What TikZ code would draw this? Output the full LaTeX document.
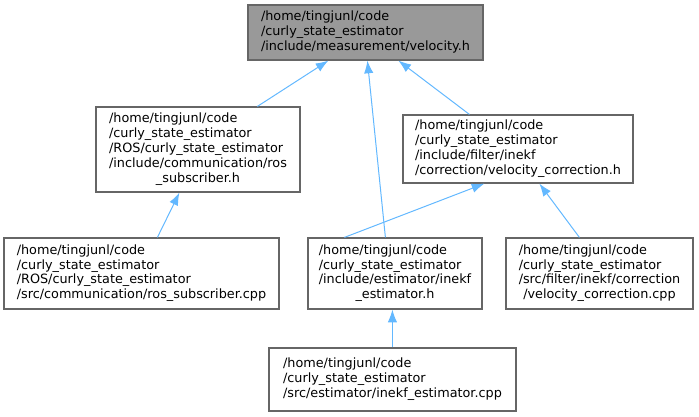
\documentclass[tikz,border=0pt]{standalone}
\usepackage{fontspec}
\setmainfont{DejaVu Sans}
\usepackage{xcolor}
\usetikzlibrary{arrows.meta,calc}
\definecolor{edgeblue}{HTML}{63B8FF}
\definecolor{boxgray}{HTML}{999999}
\definecolor{linegray}{HTML}{666666}
\newlength{\px}
\setlength{\px}{0.75pt}
\newcommand{\lastln}[1]{\multicolumn{1}{@{}c@{}}{#1}}
\newcommand{\filetext}[1]{\begin{tabular}{@{}l@{}}#1\end{tabular}}
\tikzstyle{file} = [rectangle, draw=linegray, line width=0.9pt, inner sep=0pt, font=\fontsize{9.6}{11.1}\selectfont]
\tikzstyle{current} = [file, fill=boxgray]
\tikzstyle{arrow} = [-{Latex[length=9.5pt, width=7pt]}, draw=edgeblue, line width=0.75pt]

\begin{document}
\begin{tikzpicture}[x=0.75pt, y=-0.75pt]
\useasboundingbox (0,0) rectangle (699,417);
\node[current, minimum width=235\px, minimum height=55\px] (velh) at (365.5,32.5) {\filetext{/home/tingjunl/code\\/curly\_state\_estimator\\/include/measurement/velocity.h}};
\node[file, minimum width=204\px, minimum height=85\px] (rossubh) at (198,149.5) {\filetext{/home/tingjunl/code\\/curly\_state\_estimator\\/ROS/curly\_state\_estimator\\/include/communication/ros\\\lastln{\_subscriber.h}}};
\node[file, minimum width=230\px, minimum height=68\px] (velcorrh) at (518,149) {\filetext{/home/tingjunl/code\\/curly\_state\_estimator\\/include/filter/inekf\\/correction/velocity\_correction.h}};
\node[file, minimum width=275\px, minimum height=71\px] (rossubcpp) at (141.5,273.5) {\filetext{/home/tingjunl/code\\/curly\_state\_estimator\\/ROS/curly\_state\_estimator\\/src/communication/ros\_subscriber.cpp}};
\node[file, minimum width=174\px, minimum height=71\px] (inekfh) at (395,273.5) {\filetext{/home/tingjunl/code\\/curly\_state\_estimator\\/include/estimator/inekf\\\lastln{\_estimator.h}}};
\node[file, minimum width=187\px, minimum height=71\px] (velcorrcpp) at (599.5,273.5) {\filetext{/home/tingjunl/code\\/curly\_state\_estimator\\/src/filter/inekf/correction\\\lastln{/velocity\_correction.cpp}}};
\node[file, minimum width=247\px, minimum height=63\px] (inekfcpp) at (392.5,379.5) {\filetext{/home/tingjunl/code\\/curly\_state\_estimator\\/src/estimator/inekf\_estimator.cpp}};

\draw[arrow] ($(rossubh.north west)+(162,0)$) -- ($(velh.south west)+(81,0)$);
\draw[arrow] ($(inekfh.north west)+(78,0)$) -- ($(velh.south west)+(120,0)$);
\draw[arrow] ($(velcorrh.north west)+(67,0)$) -- ($(velh.south west)+(151,0)$);
\draw[arrow] ($(rossubcpp.north west)+(154,0)$) -- ($(rossubh.south west)+(84,0)$);
\draw[arrow] ($(inekfh.north west)+(37,0)$) -- ($(velcorrh.south west)+(82,0)$);
\draw[arrow] ($(velcorrcpp.north west)+(74,0)$) -- ($(velcorrh.south west)+(137,0)$);
\draw[arrow] ($(inekfcpp.north west)+(124,0)$) -- ($(inekfh.south west)+(85,0)$);
\end{tikzpicture}
\end{document}
